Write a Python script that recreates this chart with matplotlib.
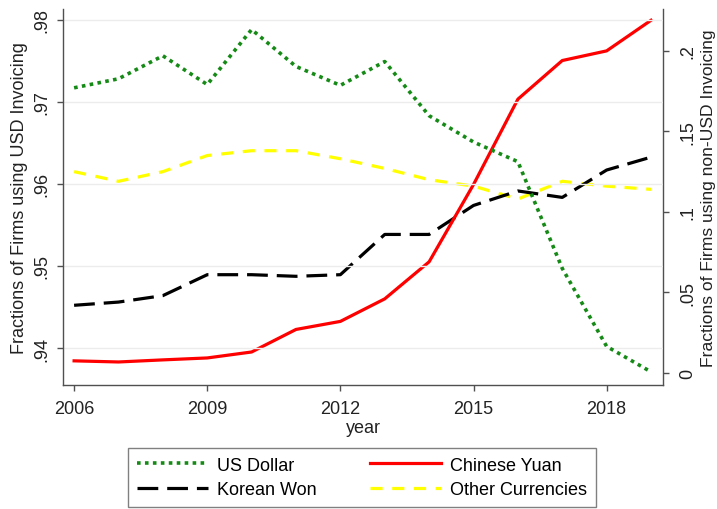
import matplotlib
matplotlib.use("Agg")
import matplotlib.pyplot as plt
from matplotlib.ticker import FixedLocator

plt.rcParams["font.family"] = ["Liberation Sans", "DejaVu Sans"]

years = [2006, 2007, 2008, 2009, 2010, 2011, 2012,
         2013, 2014, 2015, 2016, 2017, 2018, 2019]

# share of firms invoicing in USD (left axis)
us_dollar = [0.9717, 0.9728, 0.9756, 0.9721, 0.9788, 0.9743, 0.9720,
             0.9749, 0.9683, 0.9651, 0.9627, 0.9497, 0.9402, 0.9371]

# shares of firms invoicing in other currencies (right axis)
chinese_yuan = [0.0075, 0.0068, 0.0081, 0.0093, 0.0130, 0.0270, 0.0320,
                0.0460, 0.0690, 0.1170, 0.1700, 0.1940, 0.2000, 0.2190]
korean_won = [0.042, 0.044, 0.048, 0.061, 0.061, 0.060, 0.061,
              0.086, 0.086, 0.104, 0.113, 0.109, 0.126, 0.134]
other_currencies = [0.125, 0.119, 0.125, 0.135, 0.138, 0.138, 0.133,
                    0.127, 0.120, 0.116, 0.108, 0.119, 0.116, 0.114]

x_ticks = [2006, 2009, 2012, 2015, 2018]
left_ticks = [0.94, 0.95, 0.96, 0.97, 0.98]
left_labels = [".94", ".95", ".96", ".97", ".98"]
right_ticks = [0, 0.05, 0.1, 0.15, 0.2]
right_labels = ["0", ".05", ".1", ".15", ".2"]

FS = 13
SPINE = "#505050"

fig = plt.figure(figsize=(7.17, 5.10), dpi=100)
ax = fig.add_axes([63 / 717, 1 - 386 / 510, 600 / 717, 376 / 510])
ax2 = ax.twinx()
# keep the USD series drawn above the right-axis series
ax.set_zorder(ax2.get_zorder() + 1)
ax.patch.set_visible(False)

ax2.plot(years, other_currencies, color="#ffff00", lw=2.3,
         linestyle=(0, (3.8, 3.0)), label="Other Currencies", zorder=2)
ax2.plot(years, korean_won, color="black", lw=2.3,
         linestyle=(0, (6.5, 2.8)), label="Korean Won", zorder=3)
ax2.plot(years, chinese_yuan, color="#ff0000", lw=2.3,
         label="Chinese Yuan", zorder=4)
ax.plot(years, us_dollar, color="#168a16", lw=2.6,
        linestyle=(0, (1, 1.2)), label="US Dollar", zorder=5)

ax.set_xlim(2005.75, 2019.27)
ax.set_ylim(0.9355, 0.9813)
ax2.set_ylim(-0.0075, 0.226)

ax.set_xticks(x_ticks)
ax.set_xticklabels([str(y) for y in x_ticks], fontsize=FS)
ax.yaxis.set_major_locator(FixedLocator(left_ticks))
ax.set_yticklabels(left_labels, fontsize=FS, rotation=90, va="center")
ax2.yaxis.set_major_locator(FixedLocator(right_ticks))
ax2.set_yticklabels(right_labels, fontsize=FS, rotation=90, va="center")

ax.grid(axis="y", color="#ececec", lw=1.0)
ax.set_axisbelow(True)

for a in (ax, ax2):
    a.spines["top"].set_visible(False)
    for s in ("left", "right", "bottom"):
        a.spines[s].set_color(SPINE)
        a.spines[s].set_linewidth(1.0)
    a.tick_params(colors=SPINE, labelcolor="#222222", length=4, width=1)
ax.spines["right"].set_visible(False)
ax2.spines["left"].set_visible(False)
ax2.spines["bottom"].set_visible(False)
ax.tick_params(axis="x", pad=7)
ax.tick_params(axis="y", pad=5)
ax2.tick_params(axis="y", pad=8)

ax.set_xlabel("year", fontsize=FS, color="#222222", labelpad=1)
ax.set_ylabel("Fractions of Firms using USD Invoicing", fontsize=FS,
              color="#222222", labelpad=4)
ax2.set_ylabel("Fractions of Firms using non-USD Invoicing", fontsize=12.6,
               color="#222222", labelpad=3)

h1, l1 = ax.get_legend_handles_labels()
h2, l2 = ax2.get_legend_handles_labels()
handles = [h1[0], h2[1], h2[2], h2[0]]
labels = [l1[0], l2[1], l2[2], l2[0]]
leg = fig.legend(handles, labels, ncol=2, loc="lower center",
                 bbox_to_anchor=(362 / 717, 2 / 510), fontsize=FS,
                 frameon=True, fancybox=False, edgecolor="#606060",
                 handlelength=3.9, handletextpad=0.5, columnspacing=3.0,
                 labelspacing=0.4, borderpad=0.5, borderaxespad=0)
leg.get_frame().set_linewidth(1.0)

fig.savefig("out.png", dpi=100)
